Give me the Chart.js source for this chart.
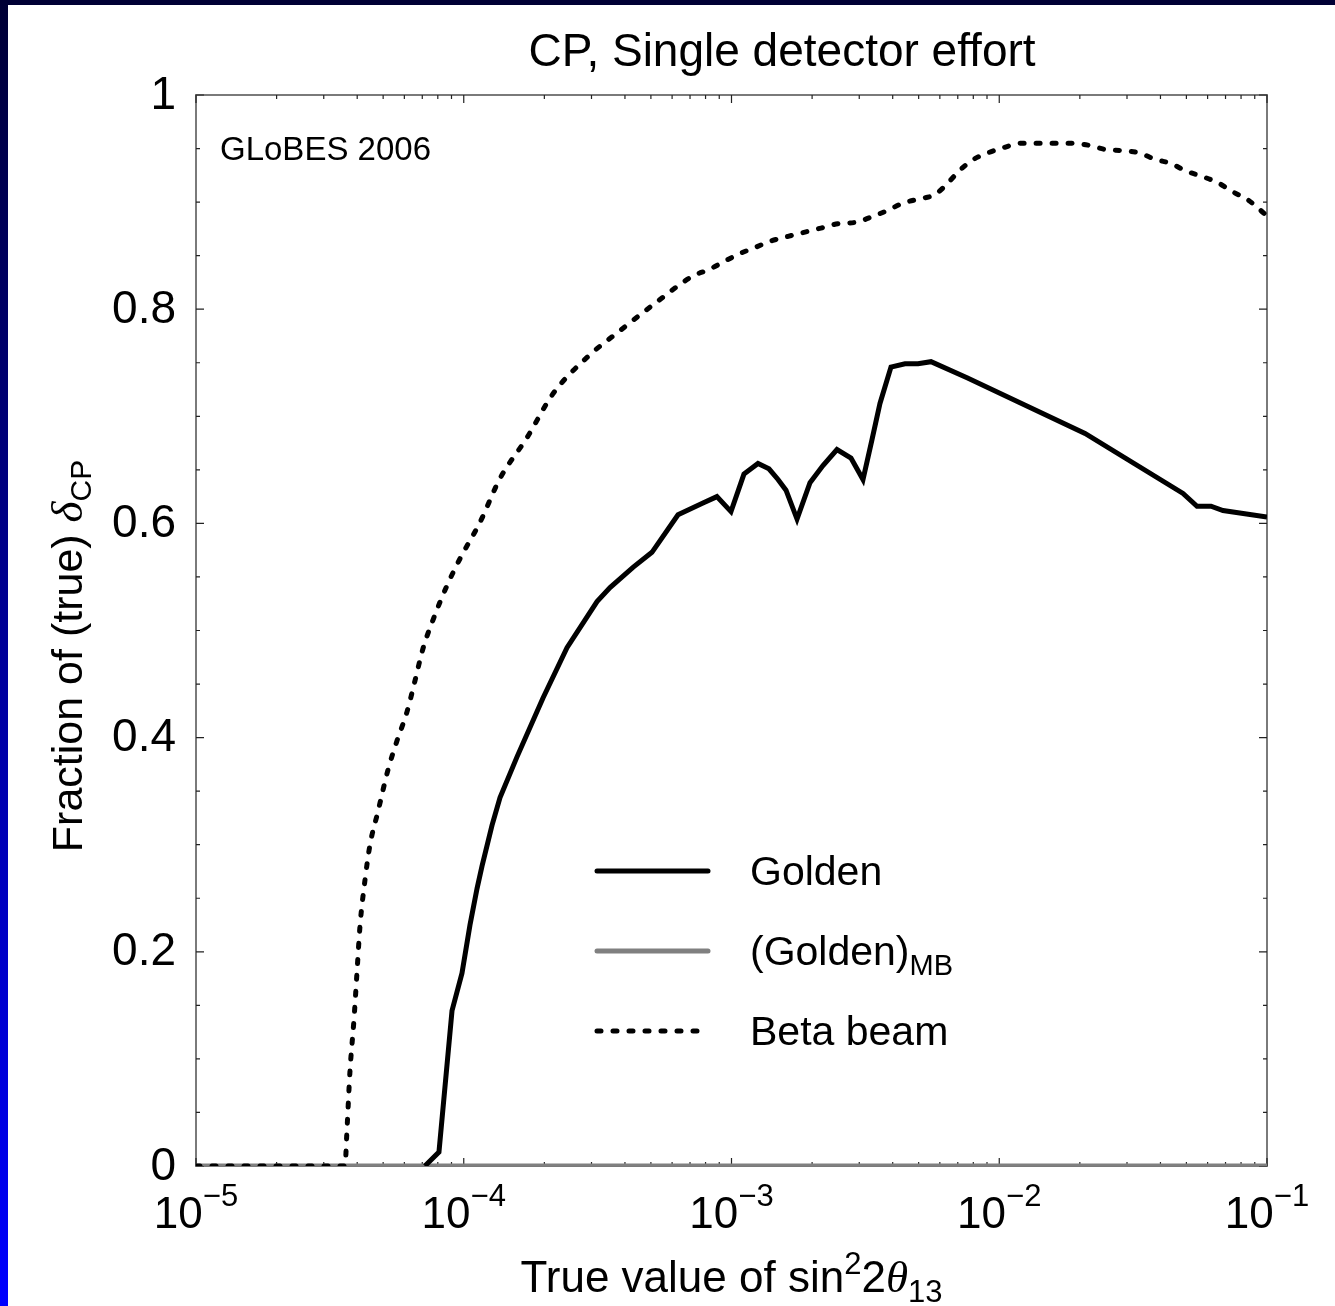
<!DOCTYPE html>
<html>
<head>
<meta charset="utf-8">
<script src="https://cdn.jsdelivr.net/npm/chart.js@4"></script>
<style>
  html, body { margin: 0; padding: 0; }
  body { width: 1335px; height: 1306px; position: relative; overflow: hidden; background: #000035; }
  #leftBand { position: absolute; left: 0; top: 0; width: 8px; height: 1306px;
    background: linear-gradient(to bottom, #000035 0%, #00009a 50%, #0000ff 100%); }
  #paper { position: absolute; left: 8px; top: 5px; right: 0; bottom: 0; background: #ffffff; }
  #wrap { position: absolute; left: 0; top: 0; width: 1335px; height: 1306px; }
</style>
</head>
<body>
<div id="leftBand"></div>
<div id="paper"></div>
<div id="wrap"><canvas id="myChart"></canvas></div>
<script>
// sin^2(2 theta13) values and fractions
var goldenX = [7.16e-5, 8.08e-5, 9.04e-5, 9.85e-5, 1.055e-4, 1.121e-4, 1.17e-4, 1.275e-4, 1.366e-4, 1.581e-4,
  1.977e-4, 2.43e-4, 3.146e-4, 3.518e-4, 4.286e-4, 5.046e-4, 6.313e-4, 7.825e-4, 8.82e-4, 9.956e-4,
  1.113e-3, 1.256e-3, 1.38e-3, 1.492e-3, 1.598e-3, 1.757e-3, 1.964e-3, 2.196e-3, 2.477e-3, 2.794e-3,
  3.098e-3, 3.346e-3, 3.585e-3, 3.941e-3, 4.446e-3, 4.972e-3, 5.561e-3, 7.58e-3, 2.091e-2, 4.857e-2,
  5.479e-2, 6.177e-2, 6.85e-2, 0.1];
var goldenY = [0, 0.013, 0.145, 0.18, 0.225, 0.259, 0.28, 0.318, 0.344, 0.382,
  0.437, 0.484, 0.527, 0.54, 0.559, 0.573, 0.608, 0.619, 0.625, 0.611,
  0.646, 0.656, 0.651, 0.641, 0.631, 0.604, 0.638, 0.654, 0.669, 0.661,
  0.641, 0.678, 0.712, 0.746, 0.749, 0.749, 0.751, 0.736, 0.684, 0.628,
  0.616, 0.616, 0.612, 0.606];

var mbX = [1e-5, 1e-4, 1e-3, 1e-2, 0.1];
var mbY = [0, 0, 0, 0, 0];

var betaX = [1e-5, 3.6e-5, 3.664e-5, 3.76e-5, 3.891e-5, 3.993e-5, 4.097e-5, 4.277e-5, 4.466e-5, 4.783e-5,
  5.215e-5, 5.632e-5, 6.138e-5, 6.573e-5, 7.04e-5, 7.68e-5, 8.66e-5, 9.68e-5, 1.15e-4, 1.366e-4,
  1.722e-4, 2.154e-4, 2.886e-4, 3.834e-4, 5.09e-4, 7.18e-4, 8.24e-4, 9.46e-4, 1.076e-3, 1.234e-3,
  1.417e-3, 1.626e-3, 1.881e-3, 2.178e-3, 2.521e-3, 2.893e-3, 3.319e-3, 3.808e-3, 4.37e-3, 5.015e-3,
  5.754e-3, 6.436e-3, 7.075e-3, 7.91e-3, 9.08e-3, 1.042e-2, 1.206e-2, 1.396e-2, 1.615e-2, 1.853e-2,
  2.164e-2, 2.505e-2, 2.899e-2, 3.327e-2, 3.818e-2, 4.381e-2, 4.983e-2, 5.719e-2, 6.561e-2, 7.529e-2,
  8.494e-2, 9.497e-2, 0.1];
var betaY = [0, 0, 0.034, 0.089, 0.137, 0.181, 0.224, 0.267, 0.3, 0.331,
  0.37, 0.397, 0.424, 0.453, 0.483, 0.51, 0.542, 0.567, 0.601, 0.642,
  0.68, 0.721, 0.755, 0.78, 0.804, 0.831, 0.837, 0.845, 0.852, 0.858,
  0.864, 0.868, 0.872, 0.876, 0.88, 0.881, 0.886, 0.892, 0.899, 0.903,
  0.907, 0.918, 0.929, 0.939, 0.946, 0.951, 0.955, 0.955, 0.955, 0.955,
  0.953, 0.949, 0.948, 0.946, 0.94, 0.936, 0.929, 0.924, 0.918, 0.909,
  0.902, 0.892, 0.887];

var yTickValues = [0, 0.2, 0.4, 0.6, 0.8, 1];
var yTickLabels = ["0", "0.2", "0.4", "0.6", "0.8", "1"];
var xTickExponents = [-5, -4, -3, -2, -1];

var SANS = '"Liberation Sans", Arial, Helvetica, sans-serif';
var SERIF = '"Liberation Serif", "DejaVu Serif", serif';

function pts(xs, ys) {
  return xs.map(function (x, i) { return { x: x, y: ys[i] }; });
}

// draws a row of text pieces [text, font, dy] centred on cx
function drawPieces(ctx, pieces, cx, baseline) {
  var w = 0;
  pieces.forEach(function (p) { ctx.font = p[1]; w += ctx.measureText(p[0]).width; });
  var x = cx - w / 2;
  ctx.textAlign = "left";
  ctx.textBaseline = "alphabetic";
  pieces.forEach(function (p) {
    ctx.font = p[1];
    ctx.fillText(p[0], x, baseline + (p[2] || 0));
    x += ctx.measureText(p[0]).width;
  });
}

var overlay = {
  id: "overlay",
  beforeDatasetsDraw: function (chart) {
    var ctx = chart.ctx, a = chart.chartArea;
    var xs = chart.scales.x, ys = chart.scales.y;
    ctx.save();
    ctx.strokeStyle = "#7a7a7a";
    ctx.lineWidth = 2;
    ctx.strokeRect(a.left, a.top, a.right - a.left, a.bottom - a.top);

    ctx.strokeStyle = "#222";
    ctx.lineWidth = 1.2;
    ctx.beginPath();
    xTickExponents.forEach(function (e) {
      var px = xs.getPixelForValue(Math.pow(10, e));
      ctx.moveTo(px, a.bottom); ctx.lineTo(px, a.bottom - 8);
      ctx.moveTo(px, a.top); ctx.lineTo(px, a.top + 8);
      if (e < -1) {
        for (var k = 2; k <= 9; k++) {
          var mx = xs.getPixelForValue(k * Math.pow(10, e));
          ctx.moveTo(mx, a.bottom); ctx.lineTo(mx, a.bottom - 4);
          ctx.moveTo(mx, a.top); ctx.lineTo(mx, a.top + 4);
        }
      }
    });
    for (var i = 0; i <= 20; i++) {
      var py = ys.getPixelForValue(i * 0.05);
      var len = (i % 4 === 0) ? 8 : 4;
      ctx.moveTo(a.left, py); ctx.lineTo(a.left + len, py);
      ctx.moveTo(a.right, py); ctx.lineTo(a.right - len, py);
    }
    ctx.stroke();
    ctx.restore();
  },
  afterDraw: function (chart) {
    var ctx = chart.ctx, a = chart.chartArea;
    var xs = chart.scales.x, ys = chart.scales.y;
    ctx.save();
    ctx.fillStyle = "#000";

    // title
    drawPieces(ctx, [["CP, Single detector effort", "46px " + SANS]], 782, 66);

    // y tick labels
    ctx.font = "46px " + SANS;
    ctx.textAlign = "right";
    ctx.textBaseline = "middle";
    yTickValues.forEach(function (v, i) {
      ctx.fillText(yTickLabels[i], 176, ys.getPixelForValue(v) + 1);
    });

    // x tick labels 10^n
    xTickExponents.forEach(function (e) {
      var px = xs.getPixelForValue(Math.pow(10, e));
      drawPieces(ctx, [["10", "44px " + SANS], ["\u2212" + Math.abs(e), "31px " + SANS, -22]], px, 1228);
    });

    // x axis title
    drawPieces(ctx, [
      ["True value of sin", "44px " + SANS],
      ["2", "31px " + SANS, -18],
      ["2", "44px " + SANS],
      ["\u03b8", "italic 45px " + SERIF],
      ["13", "31px " + SANS, 10]
    ], (a.left + a.right) / 2, 1292);

    // y axis title
    ctx.save();
    ctx.translate(82, 656);
    ctx.rotate(-Math.PI / 2);
    drawPieces(ctx, [
      ["Fraction of (true) ", "43px " + SANS],
      ["\u03b4", "italic 45px " + SERIF],
      ["CP", "30px " + SANS, 9]
    ], 0, 0);
    ctx.restore();

    // annotation
    ctx.font = "33px " + SANS;
    ctx.textAlign = "left";
    ctx.textBaseline = "alphabetic";
    ctx.fillText("GLoBES 2006", 220, 160);

    // legend
    var rows = [
      { ds: chart.data.datasets[0], y: 871, pieces: [["Golden", "41px " + SANS]] },
      { ds: chart.data.datasets[1], y: 951, pieces: [["(Golden)", "41px " + SANS], ["MB", "29px " + SANS, 10]] },
      { ds: chart.data.datasets[2], y: 1031, pieces: [["Beta beam", "41px " + SANS]] }
    ];
    rows.forEach(function (r) {
      ctx.save();
      ctx.strokeStyle = r.ds.borderColor;
      ctx.lineWidth = r.ds.borderWidth;
      ctx.lineCap = "round";
      ctx.setLineDash(r.ds.borderDash || []);
      ctx.beginPath();
      ctx.moveTo(597, r.y);
      ctx.lineTo(708, r.y);
      ctx.stroke();
      ctx.restore();
      var x = 750;
      r.pieces.forEach(function (p) {
        ctx.font = p[1];
        ctx.fillText(p[0], x, r.y + 14 + (p[2] || 0));
        x += ctx.measureText(p[0]).width;
      });
    });
    ctx.restore();
  }
};

document.addEventListener("DOMContentLoaded", function () {
  var ctx = document.getElementById("myChart").getContext("2d");
  var myChart = new Chart(ctx, {
    type: "line",
    data: {
      datasets: [
        {
          label: "Golden",
          data: pts(goldenX, goldenY),
          borderColor: "#000000",
          borderWidth: 5,
          pointRadius: 0,
          tension: 0,
          order: 1,
        },
        {
          label: "(Golden)MB",
          data: pts(mbX, mbY),
          borderColor: "#808080",
          borderWidth: 5,
          pointRadius: 0,
          order: 2,
        },
        {
          label: "Beta beam",
          data: pts(betaX, betaY),
          borderColor: "#000000",
          borderWidth: 5,
          borderDash: [4, 12],
          borderCapStyle: "round",
          pointRadius: 0,
          cubicInterpolationMode: "monotone",
          order: 0,
        },
      ],
    },
    options: {
      responsive: true,
      maintainAspectRatio: false,
      animation: false,
      layout: { padding: { top: 95, right: 68, left: 0, bottom: 0 } },
      plugins: {
        legend: { display: false },
        title: { display: false },
        tooltip: { enabled: false },
      },
      scales: {
        x: {
          type: "logarithmic",
          min: 1e-5,
          max: 0.1,
          ticks: { display: false },
          grid: { display: false },
          border: { display: false },
          afterFit: function (scale) { scale.height = 140; },
        },
        y: {
          type: "linear",
          min: 0,
          max: 1,
          ticks: { display: false },
          grid: { display: false },
          border: { display: false },
          afterFit: function (scale) { scale.width = 196; },
        },
      },
    },
    plugins: [overlay],
  });
});
</script>
</body>
</html>
